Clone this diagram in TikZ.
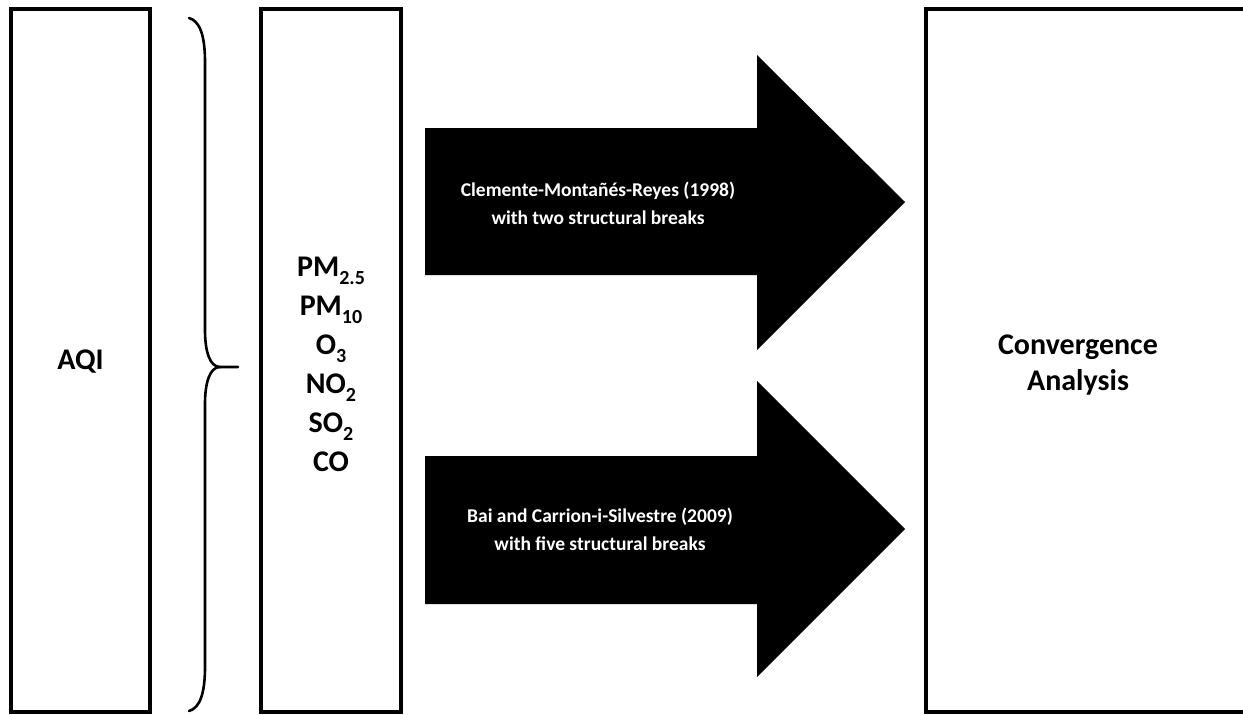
\documentclass[tikz,border=0pt]{standalone}
\usepackage{fontspec}
\setmainfont{Carlito}
\newcommand\sbs[1]{\raisebox{-0.28em}{\fontsize{20}{20}\selectfont #1}}
\begin{document}
\begin{tikzpicture}[x=1pt,y=-1pt,
  box/.style={draw=black,line width=3.3pt,fill=white,inner sep=0pt},
  bigarrow/.style={fill=black,draw=none},
  arrowtext/.style={text=white,font=\bfseries\fontsize{19.5}{28}\selectfont,align=center},
  boxtext/.style={font=\bfseries\fontsize{30}{39}\selectfont,align=center}]
\useasboundingbox (0,0) rectangle (1243,715);
\clip (0,0) rectangle (1243,715);
% boxes
\node[box,minimum width=139pt,minimum height=703pt] (aqi) at (80.5,360.5) {};
\node[box,minimum width=140pt,minimum height=703pt] (poll) at (331,360.5) {};
\node[box,minimum width=322pt,minimum height=703pt] (conv) at (1087,360.5) {};
% texts
\node[boxtext] (aqit) at (80.5,362) {AQI};
\node[boxtext] (pollt) at (331,364) {PM\sbs{2.5}\\PM\sbs{10}\\O\sbs{3}\\NO\sbs{2}\\SO\sbs{2}\\CO};
\node[boxtext,font=\bfseries\fontsize{30}{36}\selectfont] (convt) at (1078,365) {Convergence\\Analysis};
% brace
\draw[line width=2.6pt,line cap=round]
  (189,18) .. controls (200,21) and (205,36) .. (205,62)
  -- (205,330) .. controls (205,352) and (210,367) .. (220,367) -- (238,367);
\draw[line width=2.6pt,line cap=round]
  (189,711) .. controls (200,708) and (205,693) .. (205,667)
  -- (205,404) .. controls (205,382) and (210,367) .. (220,367);
% arrows
\fill[bigarrow] (425,128) -- (757,128) -- (757,55) -- (905,202) -- (757,350) -- (757,275) -- (425,275) -- cycle;
\fill[bigarrow] (425,456) -- (757,456) -- (757,381) -- (905,529) -- (757,677) -- (757,604) -- (425,604) -- cycle;
\node[arrowtext] (a1t) at (598,203) {Clemente-Montañés-Reyes (1998)\\with two structural breaks};
\node[arrowtext] (a2t) at (600,529) {Bai and Carrion-i-Silvestre (2009)\\with five structural breaks};
\end{tikzpicture}
\end{document}
